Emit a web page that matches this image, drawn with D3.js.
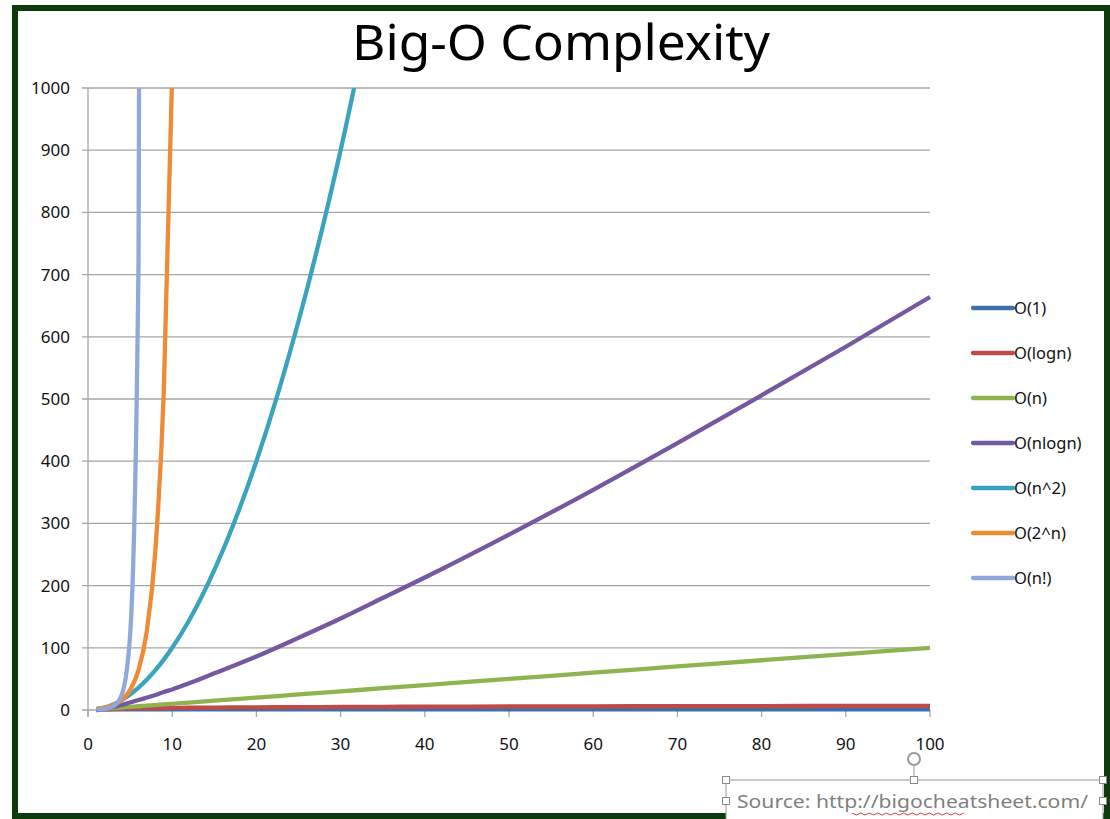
<!DOCTYPE html>
<html>
<head>
<meta charset="utf-8">
<script src="https://cdn.jsdelivr.net/npm/d3@7"></script>
<style>
  body { margin: 0; background: #fff; }
  text { font-family: "Noto Sans", sans-serif; }
</style>
</head>
<body>
<script>
// Big-O complexity chart
const width = 1110, height = 819

const categories = ["O(1)", "O(logn)", "O(n)", "O(nlogn)", "O(n^2)", "O(2^n)", "O(n!)"]
const nValues = [1, 2, 3, 4, 5, 6, 7, 8, 9, 10, 12, 15, 20, 25, 30, 35, 40, 50, 60, 70, 80, 90, 100]

const o1     = [1, 1, 1, 1, 1, 1, 1, 1, 1, 1, 1, 1, 1, 1, 1, 1, 1, 1, 1, 1, 1, 1, 1]
const oLogn  = [0, 1, 1.6, 2, 2.3, 2.6, 2.8, 3, 3.2, 3.3, 3.6, 3.9, 4.3, 4.6, 4.9, 5.1, 5.3, 5.6, 5.9, 6.1, 6.3, 6.5, 6.6]
const oN     = [1, 2, 3, 4, 5, 6, 7, 8, 9, 10, 12, 15, 20, 25, 30, 35, 40, 50, 60, 70, 80, 90, 100]
const oNlogn = [0, 2, 5, 8, 12, 16, 20, 24, 29, 33, 43, 59, 86, 116, 147, 180, 213, 282, 354, 429, 506, 584, 664]
const oN2    = [1, 4, 9, 16, 25, 36, 49, 64, 81, 100, 144, 225, 400, 625, 900, 1225, null, null, null, null, null, null, null]
const o2n    = [2, 4, 8, 16, 32, 64, 128, 256, 512, 1024, null, null, null, null, null, null, null, null, null, null, null, null, null]
const oFact  = [1, 2, 6, 24, 120, 720, 5040, null, null, null, null, null, null, null, null, null, null, null, null, null, null, null, null]

const seriesValues = [o1, oLogn, oN, oNlogn, oN2, o2n, oFact]
const xTicks = [0, 10, 20, 30, 40, 50, 60, 70, 80, 90, 100]
const yTicks = [0, 100, 200, 300, 400, 500, 600, 700, 800, 900, 1000]

const colors = ["#3f6faa", "#be4b48", "#8fb350", "#7458a0", "#3aa3bd", "#ef8a36", "#91a9d8"]

const x = d3.scaleLinear().domain([0, 100]).range([88, 930])
const y = d3.scaleLinear().domain([0, 1000]).range([710, 88])

const svg = d3.select("body").append("svg")
    .attr("width", width)
    .attr("height", height)

// outer frame
svg.append("rect")
    .attr("x", 15).attr("y", 8)
    .attr("width", 1092).attr("height", 808)
    .attr("fill", "#fff")
    .attr("stroke", "#0c3a0c")
    .attr("stroke-width", 6)

// title
svg.append("text")
    .attr("x", 561).attr("y", 60)
    .attr("text-anchor", "middle")
    .attr("font-size", 50)
    .attr("textLength", 418)
    .attr("lengthAdjust", "spacingAndGlyphs")
    .attr("fill", "#000")
    .text("Big-O Complexity")

// gridlines
svg.append("g")
    .selectAll("line")
    .data(yTicks)
    .enter().append("line")
      .attr("x1", 82).attr("x2", x(100))
      .attr("y1", d => y(d)).attr("y2", d => y(d))
      .attr("stroke", "#a6a6a6")
      .attr("stroke-width", 1.3)

// y axis line + x ticks
svg.append("line")
    .attr("x1", x(0)).attr("x2", x(0))
    .attr("y1", y(1000)).attr("y2", y(0) + 7)
    .attr("stroke", "#a6a6a6").attr("stroke-width", 1.3)

svg.append("g")
    .selectAll("line")
    .data(xTicks)
    .enter().append("line")
      .attr("x1", d => x(d)).attr("x2", d => x(d))
      .attr("y1", y(0)).attr("y2", y(0) + 7)
      .attr("stroke", "#a6a6a6").attr("stroke-width", 1.3)

// tick labels
svg.append("g")
    .selectAll("text")
    .data(yTicks)
    .enter().append("text")
      .attr("x", 70)
      .attr("y", d => y(d))
      .attr("dy", "0.35em")
      .attr("text-anchor", "end")
      .attr("font-size", 17)
      .attr("fill", "#111")
      .text(d => d)

svg.append("g")
    .selectAll("text")
    .data(xTicks)
    .enter().append("text")
      .attr("x", d => x(d))
      .attr("y", 744)
      .attr("dy", "0.35em")
      .attr("text-anchor", "middle")
      .attr("font-size", 17)
      .attr("fill", "#111")
      .text(d => d)

// lines
svg.append("clipPath").attr("id", "plotClip")
  .append("rect")
    .attr("x", x(0)).attr("y", y(1000))
    .attr("width", x(100) - x(0) + 2).attr("height", y(0) - y(1000) + 4)

const line = d3.line()
    .defined(d => d[1] != null)
    .x(d => x(d[0]))
    .y(d => y(d[1]))
    .curve(d3.curveMonotoneX)

svg.append("g")
    .attr("clip-path", "url(#plotClip)")
    .selectAll("path")
    .data(seriesValues)
    .enter().append("path")
      .attr("d", vals => line(nValues.map((n, i) => [n, vals[i]])))
      .attr("fill", "none")
      .attr("stroke", (d, i) => colors[i])
      .attr("stroke-width", 4.3)
      .attr("stroke-linejoin", "round")

// legend
const legend = svg.append("g")
    .selectAll("g")
    .data(categories)
    .enter().append("g")
      .attr("transform", (d, i) => "translate(973," + (308 + i * 45) + ")")

legend.append("line")
    .attr("x1", 0).attr("x2", 40)
    .attr("stroke", (d, i) => colors[i])
    .attr("stroke-width", 4.3)
    .attr("stroke-linecap", "round")

legend.append("text")
    .attr("x", 41)
    .attr("dy", "0.35em")
    .attr("font-size", 16.5)
    .attr("fill", "#111")
    .text(d => d)

// source box with selection handles
const src = svg.append("g")
src.append("rect")
    .attr("x", 726).attr("y", 780)
    .attr("width", 377).attr("height", 45)
    .attr("fill", "#fff")
    .attr("stroke", "#9a9a9a")
    .attr("stroke-width", 1)

src.append("text")
    .attr("x", 737).attr("y", 808)
    .attr("font-size", 18)
    .attr("textLength", 351)
    .attr("lengthAdjust", "spacingAndGlyphs")
    .attr("fill", "#7f7f7f")
    .text("Source: http://bigocheatsheet.com/")

// red squiggle under the url part
const squiggle = d3.range(0, 27).map(i => [852 + i * 8.6 / 2, 813 + (i % 2 ? 2 : 0)])
src.append("path")
    .attr("d", d3.line()(squiggle))
    .attr("fill", "none")
    .attr("stroke", "#e23b3b")
    .attr("stroke-width", 1)

src.append("line")
    .attr("x1", 914).attr("x2", 914)
    .attr("y1", 766).attr("y2", 780)
    .attr("stroke", "#9a9a9a")
src.append("circle")
    .attr("cx", 914).attr("cy", 759).attr("r", 6)
    .attr("fill", "#fff").attr("stroke", "#9a9a9a").attr("stroke-width", 2)

src.selectAll("rect.handle")
    .data([[726, 780], [914, 780], [1103, 780], [726, 801], [1103, 801]])
    .enter().append("rect")
      .attr("class", "handle")
      .attr("x", d => d[0] - 3.5).attr("y", d => d[1] - 3.5)
      .attr("width", 7).attr("height", 7)
      .attr("fill", "#fff").attr("stroke", "#8a8a8a")
</script>
</body>
</html>
